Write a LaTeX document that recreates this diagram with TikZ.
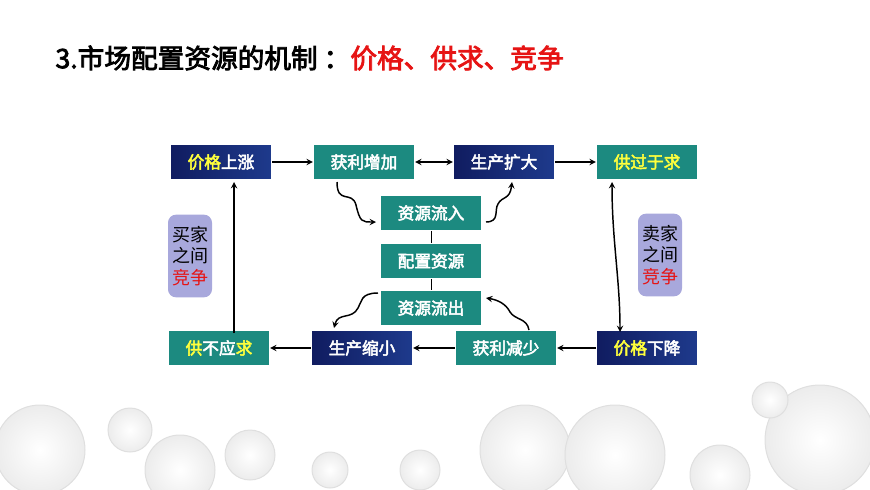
\documentclass[tikz,border=0pt]{standalone}
\usepackage{fontspec}
\setmainfont{Noto Sans CJK SC}[BoldFont={Noto Sans CJK SC},BoldFeatures={FakeBold=3}]
\usetikzlibrary{positioning}
\definecolor{tealbox}{RGB}{28,138,128}
\definecolor{navyA}{RGB}{16,28,96}
\definecolor{navyB}{RGB}{30,58,140}
\definecolor{keyyel}{RGB}{255,255,60}
\definecolor{lilac}{RGB}{168,168,220}
\definecolor{redtxt}{RGB}{230,20,20}
\tikzset{every picture/.style={line width=0.75pt}}
\tikzset{
  tealnode/.style={draw=white,fill=tealbox,text=white,font=\bfseries\fontsize{12.5}{14}\selectfont,minimum width=76pt,minimum height=26pt,inner sep=0pt},
  navynode/.style={draw=white,left color=navyA,right color=navyB,text=white,font=\bfseries\fontsize{12.5}{14}\selectfont,minimum width=76pt,minimum height=26pt,inner sep=0pt},
  sidenode/.style={fill=lilac,rounded corners=6pt,font=\fontsize{13.5}{16}\selectfont,align=center,minimum width=33pt,minimum height=62pt,inner sep=1pt},
  flow/.style={-stealth,line width=1.1pt},
}
\newcommand{\hl}[1]{\textcolor{keyyel}{#1}}

\begin{document}
\begin{tikzpicture}[x=0.75pt,y=0.75pt,yscale=-1,xscale=1]
    \useasboundingbox (0,0) rectangle (870,489);

    % title
    \draw (55,58) node [anchor=west][inner sep=0pt] {\bfseries\fontsize{20}{24}\selectfont 3.市场配置资源的机制 ：\textcolor{redtxt}{价格、供求、竞争}};

    % decorative discs
    \foreach \cx/\cy/\r in {40/450/45, 130/430/22, 180/470/35, 250/455/25, 330/470/18, 420/470/20, 525/450/45, 615/455/50, 720/475/30, 820/440/55, 770/400/18} {
      \draw [gray!25,inner color=white,outer color=gray!15] (\cx,\cy) circle (\r);
    }

    % top row
    \node [navynode] (riseP) at (221,162) {\hl{价格}上涨};
    \node [tealnode] (moreProfit) at (364,162) {获利增加};
    \node [navynode] (expand) at (504,162) {生产扩大};
    \node [tealnode] (oversupply) at (647,162) {\hl{供过于}\textcolor{keyyel}{求}};
    % middle column
    \node [tealnode] (inflow) at (431,213) {资源流入};
    \node [tealnode] (allocate) at (431,261) {配置资源};
    \node [tealnode] (outflow) at (431,308) {资源流出};
    % bottom row
    \node [tealnode] (shortage) at (219,348) {\hl{供}不应\hl{求}};
    \node [navynode] (shrink) at (362,348) {生产缩小};
    \node [tealnode] (lessProfit) at (506,348) {获利减少};
    \node [navynode] (fallP) at (647,348) {\hl{价格}下降};
    % side labels
    \node [sidenode] (buyers) at (190,256) {买家\\之间\\\textcolor{redtxt}{竞争}};
    \node [sidenode] (sellers) at (660,255) {卖家\\之间\\\textcolor{redtxt}{竞争}};

    % straight arrows
    \draw [flow] (riseP) -- (moreProfit);
    \draw [flow,stealth-stealth] (moreProfit) -- (expand);
    \draw [flow] (expand) -- (oversupply);
    \draw [flow,stealth-stealth] (612,182) .. controls (612,240) and (620,280) .. (620,332);
    \draw [flow] (fallP) -- (lessProfit);
    \draw [flow] (lessProfit) -- (shrink);
    \draw [flow] (shrink) -- (shortage);
    \draw [flow] (234,333) -- (234,182);
    \draw (inflow) -- (allocate) (allocate) -- (outflow);

    % wavy arrows
    \draw [flow] (337,182) .. controls (337,205) and (352,190) .. (356,205) .. controls (360,222) and (362,222) .. (376,222);
    \draw [flow] (486,222) .. controls (500,222) and (494,210) .. (498,204) .. controls (502,196) and (510,200) .. (512,182);
    \draw [flow] (378,293) .. controls (360,293) and (362,302) .. (358,308) .. controls (352,320) and (338,312) .. (334,328);
    \draw [flow] (529,330) .. controls (527,318) and (515,320) .. (510,312) .. controls (506,304) and (498,300) .. (486,298);
\end{tikzpicture}
\end{document}
